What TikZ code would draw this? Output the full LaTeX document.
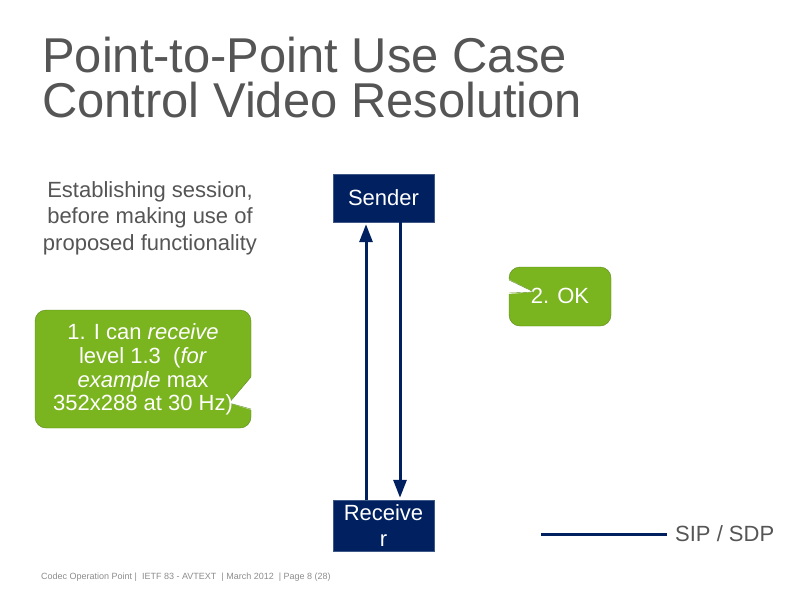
\documentclass[tikz,border=0pt]{standalone}
\usepackage{fontspec}
\setmainfont{Liberation Sans}
\usetikzlibrary{arrows.meta}

\definecolor{navy}{RGB}{0,32,96}
\definecolor{leaf}{RGB}{122,180,30}
\definecolor{leafedge}{RGB}{88,138,28}
\definecolor{titlegray}{RGB}{85,85,85}
\definecolor{footgray}{RGB}{140,140,140}

\begin{document}
\begin{tikzpicture}[x=1pt, y=-1pt,
    party/.style={draw=navy!75!white, fill=navy, text=white, inner sep=0pt,
      minimum width=101pt, align=center,
      font=\fontsize{22}{26}\selectfont},
    sip/.style={line width=3pt, draw=navy, -{Triangle[length=18pt,width=13pt]}, shorten >=2pt},
    bubble/.style={draw=leafedge, fill=leaf, rounded corners=11pt, inner sep=0pt},
    bubbletext/.style={text=white, align=center, inner sep=0pt,
      font=\fontsize{22}{23.7}\selectfont},
    graytext/.style={text=titlegray, inner sep=0pt}]
    \useasboundingbox (0,0) rectangle (800,600);

    % title
    \node[graytext, anchor=base west, font=\fontsize{48.9}{50}\selectfont] (title1) at (42,72) {Point-to-Point Use Case};
    \node[graytext, anchor=base west, font=\fontsize{48.9}{50}\selectfont] (title2) at (42,117) {Control Video Resolution};

    \node[graytext, align=center, font=\fontsize{22}{26.5}\selectfont] (intro) at (150,218)
      {Establishing session,\\ before making use of\\ proposed functionality};

    % end points
    \node[party, minimum height=48pt] (sender) at (383.5,198) {Sender};
    \node[party, minimum height=51pt] (receiver) at (383.5,525.5) {Receive\\r};

    \draw[sip] ([xshift=-17.5pt]receiver.north) -- ([xshift=-17.5pt]sender.south);
    \draw[sip] ([xshift=16.5pt]sender.south) -- ([xshift=16.5pt]receiver.north);

    % offer
    \node[bubble, minimum width=216pt, minimum height=118pt] (offerbox) at (143,369) {};
    \fill[white] (252,376) -- (229,403) -- (252,410) -- cycle;
    \draw[leafedge] (251,377) -- (229,403) -- (251,409);
    \node[bubbletext] (offer) at (143,369.5)
      {1. I can \textit{receive}\\ level 1.3~ (\textit{for}\\ \textit{example} max\\ 352x288 at 30 Hz)};

    % answer
    \node[bubble, minimum width=102pt, minimum height=59pt] (answerbox) at (560,296.5) {};
    \fill[white] (508,279) -- (534,292) -- (508,294) -- cycle;
    \draw[leafedge] (509,280) -- (534,292) -- (509,293);
    \node[bubbletext] (answer) at (560,296) {2. OK};

    % legend
    \coordinate (legA) at (541,534);
    \coordinate (legB) at (667,534);
    \draw[line width=3pt, navy] (legA) -- (legB);
    \node[graytext, anchor=west, font=\fontsize{22}{26}\selectfont] (legtext) at (675,534) {SIP / SDP};

    \node[anchor=west, text=footgray, inner sep=0pt, font=\fontsize{9}{10}\selectfont] (footer) at (41,577)
      {Codec Operation Point |~ IETF 83 - AVTEXT~ | March 2012~ | Page 8 (28)};
\end{tikzpicture}
\end{document}
